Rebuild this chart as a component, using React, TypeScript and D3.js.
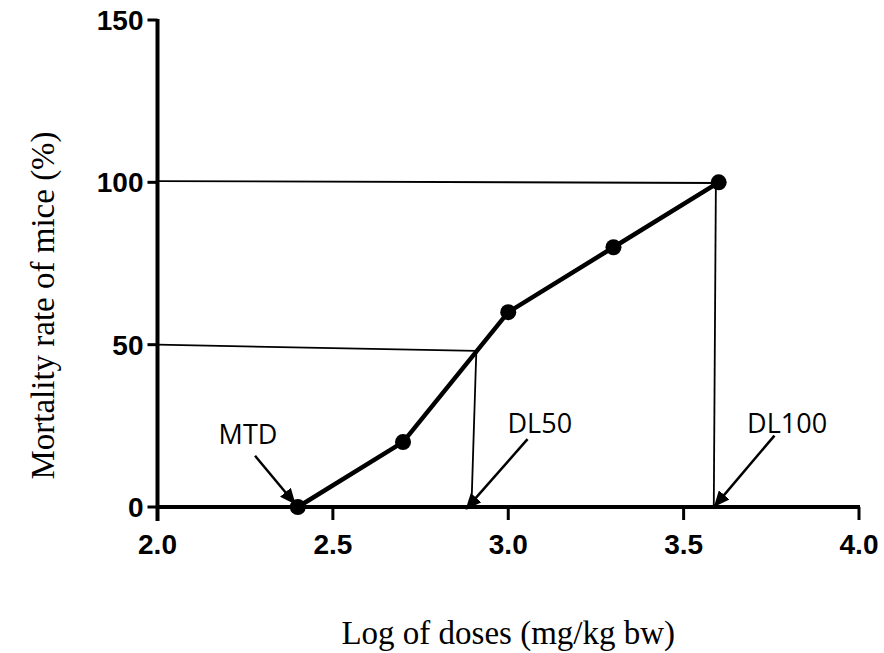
import { useEffect, useRef } from "react"
import { scaleLinear, select, line } from "d3"

// data
const doses = [2.4, 2.7, 3.0, 3.3, 3.6]
const mortality = [0, 20, 60, 80, 100]
const xTicks = [2.0, 2.5, 3.0, 3.5, 4.0]
const yTicks = [0, 50, 100, 150]

// hand drawn guide lines (data units): x1, y1, x2, y2
const guideLines = [
    [2.0, 50, 2.909, 48.1],
    [2.909, 48.1, 2.895, 0],
    [2.0, 100.4, 3.6, 99.8],
    [3.592, 99.8, 3.586, 0],
]

// annotations
const noteLabels = ["MTD", "DL50", "DL100"]
const noteX = [2.258, 3.09, 3.795]
const noteY = [19.3, 22.8, 22.8]
const arrowFrom = [[2.278, 15.8], [3.055, 20.9], [3.759, 22.0]]
const arrowTo = [[2.392, 1.0], [2.88, -0.6], [3.588, 0.2]]

export default function App() {
    const svgRef = useRef(null)

    useEffect(() => {
        const width = 884
        const height = 653
        const x = scaleLinear().domain([2, 4]).range([157.5, 859])
        const y = scaleLinear().domain([0, 150]).range([507, 20])

        const svg = select(svgRef.current)
        svg.selectAll("*").remove()
        svg.attr("width", width).attr("height", height)

        svg.append("defs")
            .append("marker")
            .attr("id", "head")
            .attr("markerUnits", "userSpaceOnUse")
            .attr("viewBox", "0 0 16 14")
            .attr("refX", 15)
            .attr("refY", 7)
            .attr("markerWidth", 16)
            .attr("markerHeight", 14)
            .attr("orient", "auto")
            .append("path")
            .attr("d", "M0,0 L16,7 L0,14 Z")
            .attr("fill", "#000")

        // guide lines
        svg.selectAll(".guide")
            .data(guideLines)
            .join("line")
            .attr("class", "guide")
            .attr("x1", d => x(d[0]))
            .attr("y1", d => y(d[1]))
            .attr("x2", d => x(d[2]))
            .attr("y2", d => y(d[3]))
            .attr("stroke", "#000")
            .attr("stroke-width", 1.8)

        // axes
        const axis = svg.append("g")
        axis.append("line")
            .attr("x1", x(2)).attr("x2", x(2))
            .attr("y1", y(150) - 1).attr("y2", y(0) + 14)
            .attr("stroke", "#000").attr("stroke-width", 4)
        axis.append("line")
            .attr("x1", x(2)).attr("x2", x(4) + 1)
            .attr("y1", y(0)).attr("y2", y(0))
            .attr("stroke", "#000").attr("stroke-width", 4)

        axis.selectAll(".ytick")
            .data(yTicks)
            .join("line")
            .attr("x1", x(2) - 10).attr("x2", x(2))
            .attr("y1", d => y(d)).attr("y2", d => y(d))
            .attr("stroke", "#000").attr("stroke-width", 3)
        axis.selectAll(".ylab")
            .data(yTicks)
            .join("text")
            .attr("x", x(2) - 14)
            .attr("y", d => y(d))
            .attr("dy", "0.36em")
            .attr("text-anchor", "end")
            .style("font-family", "'Liberation Sans', Arial, sans-serif")
            .style("font-weight", 700)
            .style("font-size", "28px")
            .text(d => d)

        axis.selectAll(".xtick")
            .data(xTicks)
            .join("line")
            .attr("x1", d => x(d)).attr("x2", d => x(d))
            .attr("y1", y(0)).attr("y2", y(0) + 13)
            .attr("stroke", "#000").attr("stroke-width", 3)
        axis.selectAll(".xlab")
            .data(xTicks)
            .join("text")
            .attr("x", d => x(d))
            .attr("y", y(0) + 47)
            .attr("text-anchor", "middle")
            .style("font-family", "'Liberation Sans', Arial, sans-serif")
            .style("font-weight", 700)
            .style("font-size", "28px")
            .text(d => d.toFixed(1))

        // series
        const pts = doses.map((d, i) => [d, mortality[i]])
        svg.append("path")
            .attr("d", line().x(d => x(d[0])).y(d => y(d[1]))(pts))
            .attr("fill", "none")
            .attr("stroke", "#000")
            .attr("stroke-width", 4.5)
        svg.selectAll(".pt")
            .data(pts)
            .join("circle")
            .attr("cx", d => x(d[0]))
            .attr("cy", d => y(d[1]))
            .attr("r", 8)
            .attr("fill", "#000")

        // annotations
        svg.selectAll(".arrow")
            .data(arrowFrom)
            .join("line")
            .attr("x1", d => x(d[0]))
            .attr("y1", d => y(d[1]))
            .attr("x2", (d, i) => x(arrowTo[i][0]))
            .attr("y2", (d, i) => y(arrowTo[i][1]))
            .attr("stroke", "#000")
            .attr("stroke-width", 2.5)
            .attr("marker-end", "url(#head)")
        svg.selectAll(".note")
            .data(noteLabels)
            .join("text")
            .attr("x", (d, i) => x(noteX[i]))
            .attr("y", (d, i) => y(noteY[i]))
            .attr("text-anchor", "middle")
            .style("font-family", "'Open Sans', sans-serif")
            .style("font-size", "27px")
            .text(d => d)

        // axis titles
        svg.append("text")
            .attr("x", (x(2) + x(4)) / 2)
            .attr("y", 644)
            .attr("text-anchor", "middle")
            .style("font-family", "'Liberation Serif', 'Times New Roman', serif")
            .style("font-size", "33px")
            .text("Log of doses (mg/kg bw)")
        svg.append("text")
            .attr("transform", `translate(54, ${(y(0) + y(150)) / 2 + 42}) rotate(-90)`)
            .attr("text-anchor", "middle")
            .style("font-family", "'Liberation Serif', 'Times New Roman', serif")
            .style("font-size", "33px")
            .text("Mortality rate of mice (%)")
    }, [])

    return <svg ref={svgRef} style={{ position: "absolute", left: 0, top: 0, background: "#fff" }} />
}
